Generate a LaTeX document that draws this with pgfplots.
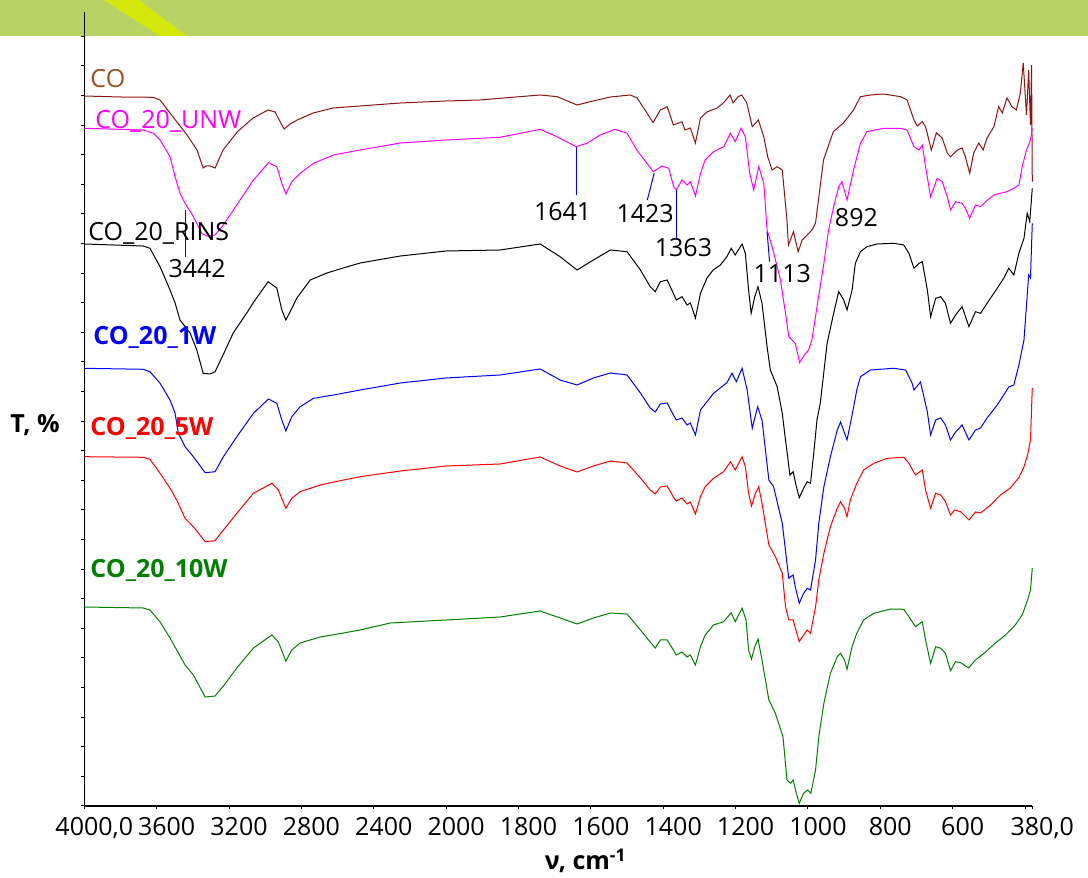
\documentclass[border=0pt]{standalone}
\usepackage{pgfplots}
\pgfplotsset{compat=1.18}
\usepackage{fontspec}
\setmainfont{Open Sans}
\definecolor{cobrown}{RGB}{140,20,20}
\definecolor{colabel}{RGB}{155,80,30}
\definecolor{bannergreen}{RGB}{184,210,100}
\definecolor{streak}{RGB}{212,232,10}
\definecolor{sgreen}{RGB}{0,128,0}
\definecolor{smagenta}{RGB}{255,0,255}
\definecolor{sblue}{RGB}{0,0,255}
\definecolor{sred}{RGB}{255,0,0}
\begin{document}
\fontsize{12.5pt}{15pt}\selectfont
\begin{tikzpicture}
\useasboundingbox (-42.15pt,-36pt) rectangle (501.85pt,403pt);
\fill[white] (-42.15pt,-36pt) rectangle (501.85pt,403pt);
\fill[bannergreen] (-42.15pt,385pt) rectangle (501.85pt,403pt);
\fill[streak] (9.85pt,403pt) -- (27.35pt,403pt) -- (51.35pt,385pt) -- (37.85pt,385pt) -- cycle;
\begin{axis}[
  width=474pt, height=397.15pt, scale only axis,
  x dir=reverse, xmin=380, xmax=4000,
  x coord trafo/.code={\pgfmathparse{#1>2000 ? 2000+(#1-2000)/2 : #1}},
  ymin=0, ymax=794.3,
  axis x line*=bottom, axis y line*=left,
  x axis line style={-}, y axis line style={-},
  axis line style={line width=0.7pt},
  xtick={4000,3600,3200,2800,2400,2000,1800,1600,1400,1200,1000,800,600,400,380},
  xticklabels={{4000,0},3600,3200,2800,2400,2000,1800,1600,1400,1200,1000,800,600,,{380,0}},
  xticklabel style={xshift=5pt},
  ytick={0,29.6,...,775}, yticklabels={},
  tick align=outside, major tick length=1.5pt,
  tick style={black, line width=0.5pt},
  xlabel={\textbf{ν, cm\textsuperscript{-1}}},
  xlabel style={at={(axis description cs:0.529,0)}, anchor=north, yshift=-17pt},
  ylabel={\textbf{T, \%}},
  ylabel style={rotate=-90, at={(axis description cs:0,0.48)}, anchor=east, xshift=-8pt},
  clip=false,
  every axis plot/.append style={line width=0.5pt},
]
% CO
\addplot[cobrown] coordinates {(4000,710)(3802,709)(3620,708.7)(3581,706)(3509,689)(3471,680)(3432,671)(3377,656)(3343,638)(3327,640)(3305,640)(3277,638)(3233,656)(3155,674)(3067,688)(2984,696)(2945,694)(2917,684)(2895,677)(2862,682)(2823,686)(2735,693)(2624,698)(2475,700)(2253,703)(2000,705)(1906,706)(1851,707.7)(1740,711)(1693,709.3)(1638,701)(1602,704.3)(1546,709)(1491,711)(1472,708)(1445,693)(1428,683.3)(1408,696)(1389,699.3)(1372,681)(1348,684.3)(1340,676)(1325,678)(1311,663)(1297,688)(1278,694.3)(1251,698)(1234,703)(1215,711)(1207,703)(1193,709.3)(1183,711)(1169,703)(1154,679.3)(1137,686)(1122,669)(1111,649)(1099,636)(1085,639.3)(1071,636)(1058,586)(1054,561)(1040,574.3)(1027,554.3)(1016,566)(1002,571)(989,576)(979,583)(971,606)(957,646)(930,674.3)(902,683)(874,696)(855,709.3)(827,711)(791,712)(744,709.3)(726,706)(707,686)(698,680)(684,684.3)(675,679.3)(659,656)(645,673.3)(629,668)(615,653)(606,649.3)(587,656)(574,658)(565,649.3)(553,632.7)(542,653)(528,663)(516,656)(505,668)(486,679.3)(473,699.3)(463,693)(450,708)(436,699.3)(424,696)(413,713)(405,743)(396,691)(390,736)(385,681)(382,741)(380,624.3)};
% CO_20_UNW
\addplot[smagenta] coordinates {(4000,677.7)(3674,676)(3618,672.7)(3581,666)(3526,649.3)(3498,629.3)(3471,612.7)(3443,602.7)(3397,589.3)(3350,572.7)(3323,570)(3277,571)(3231,581)(3176,596)(3065,626)(2982,643.3)(2936,639.3)(2908,622.7)(2886,612)(2853,624.3)(2807,632.7)(2733,642.7)(2622,651)(2475,656)(2253,663)(2000,666)(1851,668.7)(1740,676.7)(1694,669.3)(1641,659.3)(1611,662.7)(1574,671)(1533,676.7)(1500,672.7)(1473,656)(1445,642.7)(1427,634.3)(1403,640)(1385,637.7)(1371,619.3)(1364,616)(1348,626)(1334,621)(1325,624.3)(1311,610)(1297,632.7)(1284,646)(1261,654.3)(1233,659.3)(1214,672.7)(1201,664.3)(1185,677.7)(1173,669.3)(1161,632.7)(1150,616)(1136,639.3)(1122,622.7)(1113,576)(1099,559.3)(1076,526)(1062,492.7)(1053,469.3)(1044,466)(1035,462.7)(1023,443.3)(1010,451)(998,456)(989,466)(975,499.3)(956,542.7)(943,576)(929,599.3)(915,619.3)(906,624.3)(897,612.7)(892,606)(874,636)(855,662.7)(837,674.3)(790,677.7)(744,677.7)(726,676)(707,659.3)(693,656)(684,661)(675,639.3)(661,609.3)(643,627.7)(629,624.3)(615,609.3)(606,596)(592,604.3)(574,602.7)(565,597.7)(553,587.7)(537,601)(523,599.3)(509,604.3)(486,611)(468,612.7)(450,614.3)(431,617.7)(417,621)(408,639.3)(396,656)(385,666)(380,677.7)};
% CO_20_RINS
\addplot[black] coordinates {(4000,562)(3674,560)(3637,557.7)(3581,539.3)(3526,516)(3498,503)(3471,486)(3415,473)(3378,456)(3343,432.7)(3305,432)(3277,434.3)(3233,451)(3177,473)(3102,493)(3067,503)(2984,524.3)(2936,518)(2908,496)(2886,486)(2862,494.3)(2825,508)(2751,526)(2659,533)(2569,538)(2475,543)(2253,550)(2000,555)(1851,556)(1740,562)(1685,549.3)(1638,536)(1593,546)(1546,556)(1500,554.3)(1463,536)(1436,519.3)(1422,514.3)(1408,524.3)(1389,526)(1372,512.7)(1364,506)(1348,509.3)(1334,501)(1325,503)(1311,488)(1297,512.7)(1279,528)(1262,536)(1242,541)(1224,549.3)(1212,557.7)(1201,551)(1182,562)(1173,552.7)(1164,516)(1157,492.7)(1147,509.3)(1138,519.3)(1127,502.7)(1113,459.3)(1104,436)(1085,419.3)(1071,392.7)(1062,366)(1056,349.3)(1050,331)(1041,334.3)(1032,319.3)(1024,308.3)(1012,317.7)(1002,324.3)(993,322.7)(984,352.7)(975,386)(966,402.7)(947,462.7)(929,492.7)(915,514.3)(901,506)(892,496)(878,516)(869,542.7)(855,554.3)(837,559.3)(809,562)(763,562.7)(735,561)(721,552.7)(707,537.7)(693,542.7)(684,544.3)(670,516)(661,489.3)(647,507.7)(633,509.3)(620,502.7)(606,482.7)(592,491)(574,499.3)(555,479.3)(537,494.3)(523,492.7)(505,502.7)(477,517.7)(459,527.7)(445,537.7)(431,531)(417,552.7)(403,567.7)(394,592.7)(387,584.3)(380,617.7)};
% CO_20_1W
\addplot[sblue] coordinates {(4000,437.7)(3674,436.7)(3637,434.3)(3581,422.7)(3526,406)(3498,392.7)(3480,372.7)(3443,359.3)(3397,349.3)(3332,333.3)(3277,334.3)(3231,349.3)(3157,369.3)(3065,392.7)(2982,407)(2936,402.7)(2908,386)(2886,375)(2853,389.3)(2807,399.3)(2733,407.7)(2622,411)(2475,416)(2253,423)(2000,428)(1851,431)(1740,437)(1685,426)(1638,421)(1593,428)(1546,433)(1500,431)(1463,413)(1436,398)(1422,394)(1408,402)(1389,403)(1372,391)(1364,386)(1348,388)(1334,381)(1325,383)(1311,371)(1297,396)(1261,412.7)(1224,423.3)(1210,432.7)(1198,424.3)(1182,437.7)(1168,416)(1154,377.7)(1139,399.3)(1127,386)(1108,326)(1095,319.3)(1071,282.7)(1053,227.7)(1048,229.3)(1041,231)(1035,219.3)(1024,202.7)(1012,212.7)(1002,217.7)(993,216)(979,246)(970,282.7)(956,319.3)(938,349.3)(919,376)(910,384)(899,373)(892,366)(878,391)(865,416)(855,429.3)(827,436)(763,437.7)(730,436)(712,422.7)(707,416)(689,424)(670,394)(661,371)(647,386)(633,388)(620,381)(606,366)(592,374)(574,381)(555,366)(537,376)(523,378)(505,388)(477,401)(459,411)(445,419)(431,421)(417,441)(403,466)(390,531)(385,528)(380,582.7)};
% CO_20_5W
\addplot[sred] coordinates {(4000,349.3)(3674,348.7)(3637,346.7)(3581,332.7)(3526,317.7)(3489,306)(3443,287.7)(3397,279.3)(3332,264.3)(3277,265.3)(3231,276)(3157,292.7)(3065,312.7)(2963,322.7)(2927,316)(2886,297.7)(2853,307.7)(2807,314.3)(2696,321)(2567,326)(2475,329.3)(2253,335)(2000,340)(1851,342)(1740,349)(1685,340)(1638,334)(1593,340)(1546,345)(1500,343)(1463,328)(1436,316)(1422,312)(1408,319)(1389,320)(1372,309)(1364,305)(1348,308)(1334,302)(1325,304)(1311,292)(1297,309.3)(1284,319.3)(1261,327.7)(1233,334.3)(1214,344.3)(1201,336)(1182,349.3)(1173,339.3)(1164,312.7)(1156,300)(1145,312.7)(1136,319.3)(1127,302.7)(1108,261)(1090,249.3)(1071,232.7)(1062,199.3)(1053,186)(1041,186)(1032,174.3)(1024,164.3)(1012,171)(1002,176)(993,172.7)(979,199.3)(970,226)(956,252.7)(938,279.3)(919,297.7)(910,304.3)(899,297.7)(892,289.3)(883,306)(865,322.7)(846,336)(818,342.7)(781,347.7)(735,348.7)(721,342.7)(703,331)(684,336)(675,316)(661,297.7)(647,312.7)(633,311)(620,304.3)(606,291)(595,296)(578,294.3)(555,286)(537,294)(523,293)(495,301)(468,311)(441,318)(418,328)(404,338)(393,351)(385,366)(380,418)};
% CO_20_10W
\addplot[sgreen] coordinates {(4000,199)(3674,198)(3637,196)(3581,184)(3526,168)(3489,156)(3443,141)(3397,131)(3332,109)(3277,110)(3231,120)(3157,138)(3065,158)(2963,171)(2927,164)(2886,145)(2853,156)(2807,163)(2696,169)(2567,173)(2475,176)(2309,183)(2000,186)(1851,189)(1740,195)(1685,188)(1638,182)(1593,188)(1546,193)(1500,192)(1463,176)(1436,164)(1422,158)(1408,166)(1389,166)(1372,156)(1364,151)(1348,154)(1334,149)(1325,151)(1311,141)(1297,159.3)(1284,171)(1261,181)(1233,184.3)(1212,193.3)(1201,184.3)(1182,197.7)(1171,186)(1164,156)(1156,146.7)(1147,159.3)(1138,167)(1127,146)(1108,106)(1090,92.7)(1069,69.3)(1058,26)(1048,22.7)(1041,26)(1032,12.7)(1024,2.7)(1012,12.7)(1001,16)(992,12.7)(979,36)(970,69.3)(956,102.7)(938,132.7)(919,149.3)(910,152.7)(899,146)(892,136.7)(878,159.3)(865,172.7)(846,186)(818,192.7)(772,197)(735,196.7)(721,189.3)(703,179.3)(684,184.3)(675,166)(661,142.7)(647,159.3)(633,157.7)(620,152.7)(606,135.3)(592,144.3)(578,143.3)(556,138)(537,146)(509,154)(482,163)(454,171)(427,181)(408,191)(393,206)(385,216)(380,238)};
% annotations
\draw[sblue, line width=0.5pt] (axis cs:3442,596) -- (axis cs:3442,549);
\draw[sblue, line width=0.5pt] (axis cs:1641,659.3) -- (axis cs:1641,611);
\draw[sblue, line width=0.5pt] (axis cs:1425,632.7) -- (axis cs:1444,606);
\draw[sblue, line width=0.5pt] (axis cs:1364,616) -- (axis cs:1364,566);
\draw[sblue, line width=0.5pt] (axis cs:1113,574.3) -- (axis cs:1106,544.3);
\node[inner sep=0pt] at (axis cs:3376,537) {3442};
\node[inner sep=0pt] at (axis cs:1678,594) {1641};
\node[inner sep=0pt] at (axis cs:1450,592) {1423};
\node[inner sep=0pt] at (axis cs:1344,558) {1363};
\node[inner sep=0pt] at (axis cs:1071,532) {1113};
\node[inner sep=0pt] at (axis cs:866,588) {892};
% series labels
\node[inner sep=0pt, anchor=west, text=colabel] at (axis cs:3968,727) {CO};
\node[inner sep=0pt, anchor=west, text=smagenta] at (axis cs:3941,685) {CO\_20\_UNW};
\node[inner sep=0pt, anchor=west, text=black] at (axis cs:3980,573) {CO\_20\_RINS};
\node[inner sep=0pt, anchor=west, text=sblue, font=\bfseries] at (axis cs:3952,469) {CO\_20\_1W};
\node[inner sep=0pt, anchor=west, text=sred, font=\bfseries] at (axis cs:3968,378) {CO\_20\_5W};
\node[inner sep=0pt, anchor=west, text=sgreen, font=\bfseries] at (axis cs:3968,236) {CO\_20\_10W};
\end{axis}
\end{tikzpicture}
\end{document}
